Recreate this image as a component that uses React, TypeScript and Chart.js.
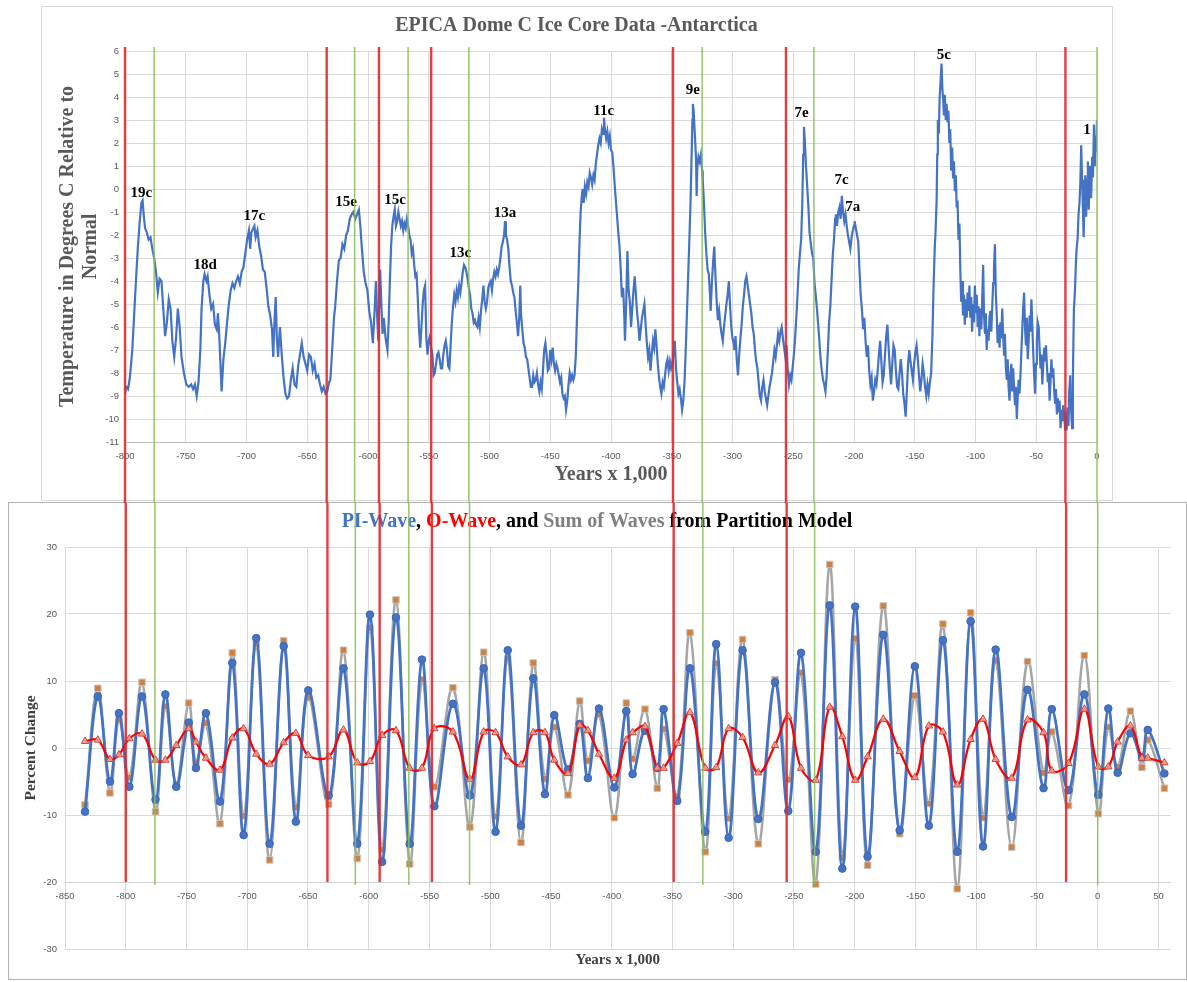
import React, { useEffect, useRef } from 'react';
import { Chart, registerables } from 'chart.js';

Chart.register(...registerables);

const SERIF = '"Liberation Serif", "Times New Roman", serif';
const SANS = '"Liberation Sans", Arial, sans-serif';

// ---------------- Top chart: EPICA Dome C temperature (years x 1,000 / deg C) ----------------
const epicaYears = [
  -800, -799, -797.5, -796, -794, -792.5, -791, -789.5, -788, -786.5,
  -785.5, -784.5, -783.5, -782, -780.5, -779, -777.5, -776, -774.5, -773,
  -771.5, -770, -768.5, -767, -765.5, -764, -762.5, -761, -759.5, -758,
  -756.5, -755, -753.5, -751.5, -749.5, -747.5, -745.5, -744, -742.5, -741,
  -739.5, -738, -737, -735.5, -734.5, -733, -732, -730.5, -729, -727.5,
  -726, -724.5, -723.5, -722.5, -721.5, -720.5, -719, -717.5, -716, -714.5,
  -713, -711.5, -710, -708.5, -707, -705.5, -704, -702.5, -701, -699.5,
  -698, -697, -696, -694.5, -693.5, -692.5, -691, -689.5, -688, -686.5,
  -685, -683.5, -682, -680.5, -679, -678, -677, -676, -675, -674,
  -672.5, -671, -669.5, -668, -666.5, -665, -663.5, -662, -660.5, -659,
  -657.5, -656, -654.5, -653, -651.5, -650, -648.5, -647, -645.5, -644,
  -642.5, -641, -639.5, -638, -636.5, -635, -633.5, -632, -631, -629.5,
  -628, -627, -625.5, -624, -622.5, -621, -619.5, -618, -616.5, -615,
  -613.5, -612, -610.5, -609, -607.5, -606.5, -605, -603.5, -602, -600.5,
  -599, -597.5, -596, -594.5, -593.5, -592.5, -591.5, -590, -589, -588,
  -587, -585.5, -584, -583, -582, -581, -580, -579, -578, -577,
  -576, -575, -574, -573, -572, -571, -570, -569, -568, -567,
  -566, -565, -564, -563, -562, -561, -560, -559, -558, -557,
  -556, -555, -554, -553, -552, -551, -550, -549, -548, -547,
  -546, -545, -544, -543, -542, -541, -540, -539, -538, -537,
  -536, -535, -534, -533, -532, -531, -530, -529, -528, -527,
  -526, -525, -524, -523, -522, -521, -520, -519, -518, -517,
  -516, -515, -514, -513, -512, -511, -510, -509, -508, -507,
  -506, -505, -504, -503, -502, -501, -500, -499, -498, -497,
  -496, -495, -494, -493, -492, -491, -490, -489, -488, -487.2,
  -486.5, -485.5, -484.5, -483.5, -482.5, -481.5, -480.5, -479.5, -478.5, -477.5,
  -476.5, -475.5, -474.7, -474, -473, -472, -471, -470, -469, -468,
  -467, -466, -465, -464, -463, -462, -461, -460, -459, -458,
  -457, -456, -455, -454, -453, -452, -451, -450, -449, -448,
  -447, -446, -445, -444, -443, -442, -441, -440, -439, -438,
  -437, -436, -435, -434, -433, -432, -431, -430, -429, -428,
  -427, -426, -425, -424, -423.3, -422.5, -421.5, -420.5, -419.5, -418.5,
  -417.5, -416.5, -415.5, -414.5, -413.5, -412.5, -411.5, -410.5, -409.5, -408.5,
  -407.5, -406.5, -405.8, -405, -404, -403, -402, -401, -400, -399,
  -398, -397, -396, -395, -394, -393, -392, -391, -390, -389,
  -388.5, -387.5, -386.5, -385.5, -384.5, -383.5, -382.5, -381.5, -380.5, -379.5,
  -378.5, -377.5, -376.5, -375.5, -374.5, -373.5, -372.5, -371.5, -370.5, -369.5,
  -368.5, -367.5, -366.5, -365.5, -364.5, -363.5, -362.5, -361.5, -360.5, -359.5,
  -358.5, -357.5, -356.5, -355.5, -354.5, -353.5, -352.5, -351.5, -350.5, -349.5,
  -348.5, -347.5, -346.5, -345.5, -344.5, -343.5, -342.5, -341.5, -340.5, -339.5,
  -338.5, -337.5, -336.5, -335.5, -334.5, -333.5, -333, -332.6, -332, -331,
  -330, -329.5, -329, -328, -327, -326, -325, -324.5, -323.5, -322.5,
  -321.5, -320.5, -319.5, -318.5, -318, -317, -316, -315, -314, -313,
  -312, -311, -310, -309, -308, -307, -306, -305, -304, -303,
  -302, -301, -300, -299, -298.5, -297.5, -296.5, -295.5, -294.5, -293.5,
  -292.5, -291.5, -290.5, -289.5, -288.5, -287.5, -286.5, -285.5, -284.5, -283.5,
  -282.5, -281.5, -280.5, -279.5, -278.5, -277.5, -276.5, -275.5, -274.5, -273.5,
  -272.5, -271.5, -270.5, -269.5, -268.5, -267.5, -266.5, -265.5, -264.5, -263.5,
  -262.5, -261.5, -260.5, -259.5, -258.5, -257.5, -256.5, -255.5, -254.5, -253.5,
  -252.5, -251.5, -250.5, -249.5, -248.5, -247.5, -246.5, -245.5, -244.5, -243.5,
  -242.5, -241.8, -241.2, -240.5, -239.5, -238.5, -237.5, -236.6, -235.5, -234.5,
  -233.5, -232.5, -231.5, -230.5, -229.5, -228.5, -227.5, -226.5, -225.5, -224.5,
  -223.5, -222.5, -221.5, -220.5, -219.5, -218.5, -217.5, -216.5, -215.5, -215,
  -214, -213, -212, -211, -210, -209, -208, -207, -206, -205,
  -204, -203, -202, -201, -200, -199.5, -198.5, -197.5, -196.5, -195.5,
  -194.5, -193.5, -192.5, -191.5, -190.5, -189.5, -188.5, -187.5, -186.5, -185.5,
  -184.5, -183.5, -182.5, -181.5, -180.5, -179.5, -178.5, -177.5, -176.5, -175.5,
  -174.5, -173.5, -172.5, -171.5, -170.5, -169.5, -168.5, -167.5, -166.5, -165.5,
  -164.5, -163.5, -162.5, -161.5, -160.5, -159.5, -158.5, -157.5, -156.5, -155.5,
  -154.5, -153.5, -152.5, -151.5, -150.5, -149.5, -148.5, -147.5, -146.5, -145.5,
  -144.5, -143.5, -142.5, -141.5, -140.5, -139.5, -138.5, -137.5, -136.5, -135.5,
  -134.5, -133.5, -133, -132, -131.5, -131, -130.2, -129.5, -128.8, -128,
  -127.3, -126.5, -126, -125.3, -124.5, -123.8, -123, -122.3, -121.5, -120.8,
  -120, -119.2, -118.5, -117.7, -117, -116.2, -115.5, -114.8, -114, -113.2,
  -112.5, -111.8, -111, -110.3, -109.5, -108.8, -108, -107.2, -106.5, -105.8,
  -105, -104.3, -103.5, -102.8, -102, -101.3, -100.5, -99.8, -99, -98.2,
  -97.5, -96.8, -96, -95.2, -94.5, -93.7, -93, -92.2, -91.5, -90.8,
  -90, -89.2, -88.5, -87.8, -87, -86.2, -85.5, -84.8, -84, -83.3,
  -82.5, -81.8, -81, -80.2, -79.5, -78.8, -78, -77.2, -76.5, -75.8,
  -75, -74.2, -73.5, -72.8, -72, -71.3, -70.5, -69.8, -69, -68.2,
  -67.5, -66.8, -66, -65.3, -64.5, -63.8, -63, -62.2, -61.5, -60.8,
  -60, -59.2, -58.5, -57.8, -57, -56.2, -55.5, -54.8, -54, -53.2,
  -52.5, -51.8, -51, -50.2, -49.5, -48.8, -48, -47.2, -46.5, -45.8,
  -45, -44.2, -43.5, -42.8, -42, -41.2, -40.5, -39.8, -39, -38.2,
  -37.5, -36.8, -36, -35.2, -34.5, -33.8, -33, -32.2, -31.5, -30.8,
  -30, -29.2, -28.5, -27.8, -27, -26.2, -25.5, -25, -24.2, -23.5,
  -22.8, -22, -21.3, -20.5, -19.8, -19, -18.2, -17.5, -16.8, -16,
  -15.2, -14.4, -13.7, -13, -12.3, -11.6, -11, -10.3, -9.6, -8.9,
  -8.2, -7.5, -6.8, -6.1, -5.5, -4.8, -4, -3.3, -2.5, -1.8,
  -1.2, -0.6, 0,
];

const epicaTemps = [
  -8.9, -8.6, -8.7, -8.2, -7.0, -5.5, -4.0, -2.6, -1.5, -0.6,
  -0.5, -1.2, -1.7, -1.9, -2.2, -2.1, -2.6, -3.0, -3.6, -4.5,
  -3.9, -4.0, -5.2, -6.4, -5.8, -4.8, -5.2, -6.6, -7.3, -6.5,
  -5.2, -6.0, -7.3, -8.0, -8.5, -8.6, -8.5, -8.7, -8.5, -9.0,
  -8.4, -7.0, -5.2, -4.0, -3.7, -4.0, -3.8, -4.6, -5.2, -5.0,
  -5.9, -6.1, -5.4, -6.3, -7.5, -8.8, -7.4, -6.7, -5.8, -5.0,
  -4.4, -4.1, -4.3, -4.0, -3.8, -4.1, -3.6, -3.4, -2.8, -2.2,
  -1.8, -2.6, -1.9, -1.7, -1.6, -2.1, -1.8, -2.5, -2.9, -3.5,
  -3.6, -4.3, -5.1, -5.5, -6.1, -7.3, -5.8, -4.7, -6.5, -7.3,
  -6.0, -7.2, -8.2, -8.9, -9.1, -9.0, -8.3, -7.8, -8.5, -8.6,
  -7.7, -7.2, -6.7, -7.3, -7.6, -7.9, -7.2, -7.3, -7.9, -7.6,
  -8.2, -8.1, -8.5, -8.8, -8.6, -8.9, -8.8, -8.4, -8.3, -7.0,
  -5.6, -5.1, -4.0, -3.1, -3.0, -2.4, -2.6, -2.0, -1.8, -1.3,
  -1.1, -1.0, -1.3, -1.1, -0.9, -1.5, -2.6, -3.6, -4.1, -4.4,
  -5.3, -5.8, -6.7, -5.2, -4.0, -5.5, -6.6, -3.5, -5.0, -6.3,
  -5.6, -6.5, -7.0, -5.8, -4.0, -2.5, -1.6, -1.2, -0.9, -1.6,
  -1.4, -1.0, -1.3, -1.6, -1.4, -1.8, -1.5, -1.7, -1.3, -1.6,
  -2.0, -2.2, -2.8, -2.6, -3.3, -3.8, -3.7, -4.8, -6.1, -6.9,
  -6.0, -5.0, -4.4, -4.2, -6.5, -7.2, -6.6, -6.4, -6.9, -7.2,
  -8.1, -8.0, -7.6, -7.2, -7.1, -7.4, -7.8, -7.8, -7.2, -6.8,
  -6.6, -7.0, -7.7, -7.8, -6.8, -5.8, -5.1, -4.6, -4.9, -4.4,
  -4.7, -4.2, -4.5, -4.1, -3.6, -3.3, -3.4, -3.6, -3.9, -4.3,
  -4.6, -5.2, -5.4, -5.8, -5.7, -5.9, -6.0, -5.6, -6.0, -5.3,
  -4.8, -4.2, -4.9, -5.2, -4.9, -4.3, -4.1, -4.0, -4.4, -3.9,
  -3.6, -3.8, -3.5, -3.7, -3.4, -3.0, -2.5, -2.3, -2.0, -1.4,
  -2.0, -2.2, -2.6, -3.4, -4.0, -4.2, -4.5, -4.7, -5.3, -5.8,
  -6.4, -5.6, -4.2, -5.5, -6.1, -6.7, -6.9, -7.3, -7.4, -7.8,
  -8.2, -8.6, -8.6, -8.1, -8.4, -8.3, -8.0, -8.5, -8.8, -8.4,
  -8.7, -7.9, -7.0, -6.7, -7.2, -7.9, -7.8, -7.0, -7.4, -6.9,
  -7.6, -7.9, -7.6, -7.8, -8.1, -8.4, -8.2, -8.9, -9.1, -9.0,
  -9.6, -9.2, -8.5, -8.0, -8.3, -8.1, -8.3, -8.1, -7.3, -5.6,
  -4.2, -2.4, -1.0, -0.3, 0.0, -0.6, 0.1, -0.2, 0.3, 0.1,
  0.7, 0.5, 0.2, 0.6, 0.4, 1.1, 1.5, 1.9, 2.2, 2.0,
  2.6, 2.4, 3.1, 2.6, 2.2, 2.5, 2.0, 2.3, 1.7, 1.6,
  1.0, 0.2, -0.5, -1.2, -1.9, -2.5, -3.5, -4.7, -4.3, -5.6,
  -6.6, -5.0, -2.7, -4.4, -4.9, -6.0, -5.2, -4.4, -3.8, -4.6,
  -5.4, -5.9, -6.6, -6.1, -5.6, -5.3, -5.0, -5.9, -6.7, -7.3,
  -7.0, -7.9, -7.2, -6.6, -6.9, -6.1, -6.8, -7.6, -8.2, -8.6,
  -8.9, -8.4, -8.6, -8.1, -7.6, -7.4, -7.9, -7.5, -7.8, -7.6,
  -7.1, -6.6, -7.8, -8.4, -8.9, -8.7, -9.1, -9.6, -9.2, -8.4,
  -7.0, -5.4, -3.8, -2.2, -0.5, 1.8, 3.0, 3.7, 3.4, 2.4,
  1.3, -0.3, 0.9, 1.4, 1.2, 1.5, 0.8, 0.4, -0.6, -1.9,
  -2.8, -3.5, -3.7, -4.6, -5.3, -4.1, -3.2, -2.5, -3.8, -4.9,
  -5.7, -5.3, -5.9, -6.3, -6.6, -6.0, -5.5, -5.0, -4.6, -4.0,
  -5.1, -6.0, -6.5, -6.7, -7.0, -6.4, -7.4, -8.1, -7.2, -6.5,
  -5.9, -5.1, -4.6, -4.0, -3.8, -4.2, -4.6, -5.0, -5.4, -6.0,
  -6.3, -7.0, -7.5, -7.8, -8.4, -9.0, -9.2, -8.6, -8.3, -8.8,
  -9.1, -9.4, -9.0, -8.6, -8.3, -8.0, -7.5, -7.0, -7.3, -6.8,
  -6.3, -6.6, -6.2, -6.0, -6.5, -6.9, -7.3, -6.8, -7.9, -8.5,
  -8.1, -8.3, -7.75, -7.2, -6.5, -5.6, -4.6, -3.5, -2.8, -2.2,
  -0.5, 1.5, 2.7, 2.1, 1.0, 0.1, -0.8, -1.9, -2.4, -2.8,
  -3.0, -4.1, -4.6, -5.2, -5.9, -6.6, -7.4, -7.9, -8.3, -8.5,
  -8.8, -8.1, -7.0, -5.8, -5.1, -4.0, -2.9, -2.2, -1.3, -1.1,
  -1.6, -1.0, -0.8, -1.3, -0.3, -1.0, -1.4, -1.1, -1.6, -2.0,
  -2.3, -2.6, -2.1, -1.8, -1.6, -1.4, -1.7, -2.0, -2.3, -3.5,
  -4.6, -5.2, -6.1, -5.6, -6.6, -7.3, -6.8, -7.9, -8.5, -8.2,
  -9.2, -8.8, -8.3, -8.5, -7.9, -7.2, -6.6, -7.5, -8.4, -8.1,
  -7.2, -6.4, -5.9, -6.9, -7.8, -8.5, -7.6, -6.8, -7.0, -7.9,
  -8.6, -8.7, -8.0, -7.4, -8.0, -8.9, -9.3, -9.9, -8.8, -7.6,
  -7.0, -7.5, -7.9, -8.3, -7.6, -7.1, -6.8, -7.4, -8.1, -8.8,
  -8.3, -7.6, -8.0, -8.6, -9.0, -8.5, -8.9, -8.4, -8.0, -6.5,
  -4.2, -2.5, -2.0, -0.5, 1.5, 3.0, 2.4, 4.0, 4.6, 5.45,
  4.4, 3.8, 3.2, 4.1, 3.0, 3.7, 2.9, 3.4, 2.0, 2.6,
  0.8, 1.8, 0.5, 1.2, -0.1, 0.6, -0.8, -0.5, -2.2, -1.5,
  -3.5, -4.9, -4.0, -5.5, -4.6, -5.9, -4.8, -5.6, -4.5, -5.3,
  -4.2, -5.6, -4.7, -6.2, -5.0, -5.8, -4.2, -5.4, -4.6, -6.0,
  -5.1, -6.4, -5.2, -6.1, -4.8, -3.3, -5.5, -6.3, -5.4, -7.0,
  -6.1, -6.6, -5.6, -5.3, -6.2, -5.1, -4.1, -3.4, -2.4, -4.5,
  -5.5, -6.7, -5.9, -6.9, -5.8, -6.5, -5.2, -6.4, -7.2, -6.3,
  -7.8, -8.3, -7.4, -8.6, -9.2, -8.1, -7.6, -8.8, -7.8, -8.7,
  -9.4, -8.6, -10.0, -9.1, -8.3, -8.9, -8.1, -7.0, -6.1, -5.2,
  -4.5, -6.1, -6.8, -5.6, -7.4, -6.6, -5.5, -6.2, -4.8, -6.0,
  -7.1, -8.0, -8.9, -7.6, -6.6, -5.8, -6.0, -7.0, -7.8, -7.2,
  -8.5, -7.6, -6.9, -7.5, -6.8, -7.7, -8.4, -8.0, -9.2, -8.3,
  -7.4, -8.2, -7.8, -8.8, -9.3, -8.7, -9.8, -9.1, -9.7, -9.2,
  -10.4, -9.6, -10.1, -9.4, -9.8, -10.5, -9.7, -10.5, -9.5, -10.3,
  -8.8, -8.1, -9.6, -10.4, -8.0, -5.2, -4.5, -3.4, -2.6, -2.2,
  -1.1, -0.6, 0.3, 1.9, 0.4, -0.8, -2.1, -0.5, 0.6, -1.2,
  0.4, 1.2, -0.9, 0.8, 1.0, -0.4, 1.4, 0.5, 2.8, 1.0,
  2.3, 1.6, 3.0,
];

const stageLabels = ['19c', '18d', '17c', '15e', '15c', '13c', '13a', '11c', '9e', '7e', '7c', '7a', '5c', '1'];
const stageLabelYears = [-786.5, -734, -693.6, -618, -577.8, -524, -487.3, -406, -332.6, -243.2, -210.2, -201, -126, -8.3];
const stageLabelTemps = [-0.17, -3.3, -1.2, -0.56, -0.5, -2.8, -1.04, 3.4, 4.3, 3.3, 0.38, -0.78, 5.8, 2.55];

// ---------------- Bottom chart: partition model waves ----------------
const waveYears = [
  -833.5, -823, -813, -805.6, -797, -786.6, -775.5, -767.4, -758.4, -748.2,
  -742.2, -734, -722.4, -712.3, -703, -692.6, -681.6, -670, -660, -649.8,
  -633, -620.8, -609.4, -599, -589, -577.6, -566.3, -556.2, -546, -530.7,
  -516.7, -505.4, -495.6, -485.6, -474.7, -464.6, -455, -447.3, -436, -426.4,
  -419.6, -410.5, -397.9, -388, -382.8, -372.6, -362.5, -357.3, -346.1, -335.6,
  -323, -314, -303.8, -292.3, -279.4, -265.6, -254.7, -244.2, -232.1, -220.6,
  -210.2, -199.6, -189.4, -176.5, -163, -150.5, -139, -127.4, -115.6, -104.6,
  -94.4, -84, -70.8, -57.8, -44.6, -37.8, -24, -11, 0.5, 8.7,
  16.4, 26.9, 36.4, 41.2, 54.9,
];

const piWave = [
  -9.5, 7.7, -5.0, 5.2, -5.8, 7.7, -7.7, 8.0, -5.8, 3.8,
  -3.0, 5.2, -8.0, 12.7, -13.0, 16.4, -14.3, 15.2, -11.0, 8.6,
  -7.1, 11.9, -14.3, 19.9, -17.0, 19.5, -14.3, 13.2, -8.7, 6.6,
  -7.1, 11.9, -12.5, 14.6, -11.6, 10.4, -6.9, 4.9, -3.2, 3.6,
  -4.5, 5.9, -5.9, 5.5, -3.9, 2.6, -3.0, 5.8, -7.9, 11.9,
  -12.5, 15.5, -13.4, 14.6, -10.6, 9.8, -9.4, 14.2, -15.5, 21.3,
  -18.0, 21.1, -16.2, 16.9, -12.3, 12.2, -11.6, 16.1, -15.5, 18.9,
  -14.7, 14.7, -10.3, 8.7, -6.0, 5.8, -6.3, 8.0, -7.0, 5.9,
  -3.7, 2.2, -1.4, 2.7, -3.8,
];

const oWave = [
  1.0, 1.2, -1.7, -1.0, 1.4, 2.1, -1.8, -1.8, 0.4, 2.9,
  0.9, -1.5, -3.3, 1.5, 2.9, -0.9, -2.4, 0.8, 2.2, -1.1,
  -1.3, 2.7, -2.2, -2.0, 1.9, 2.6, -3.0, -3.0, 2.9, 2.4,
  -4.7, 2.4, 2.3, -1.3, -2.5, 2.3, 2.3, -1.8, -3.8, 3.4,
  2.6, -0.9, -4.5, 1.2, 2.3, 3.2, -3.0, -3.0, 0.7, 5.3,
  -3.0, -2.9, 2.9, 1.6, -3.7, 0.4, 4.7, -3.0, -4.8, 6.1,
  1.7, -4.8, -1.3, 4.3, -0.5, -4.4, 3.3, 2.4, -5.5, 1.3,
  4.3, -1.7, -4.5, 4.2, 2.3, -3.4, -2.3, 5.8, -2.8, -2.8,
  0.9, 3.3, -1.5, -1.5, -2.2,
];

const sumWaves = [
  -8.5, 8.9, -6.7, 4.2, -4.4, 9.8, -9.5, 6.2, -5.4, 6.7,
  -2.1, 3.7, -11.3, 14.2, -10.1, 15.5, -16.7, 16.0, -8.8, 7.5,
  -8.4, 14.6, -16.5, 17.9, -15.1, 22.1, -17.3, 10.2, -5.8, 9.0,
  -11.8, 14.3, -10.2, 13.3, -14.1, 12.7, -4.6, 3.1, -7.0, 7.0,
  -1.9, 5.0, -10.4, 6.7, -1.6, 5.8, -6.0, 2.8, -7.2, 17.2,
  -15.5, 12.6, -10.5, 16.2, -14.3, 10.2, -4.7, 11.2, -20.3, 27.4,
  -16.3, 16.3, -17.5, 21.2, -12.8, 7.8, -8.3, 18.5, -21.0, 20.2,
  -10.4, 13.0, -14.8, 12.9, -3.7, 2.4, -8.6, 13.8, -9.8, 3.1,
  -2.8, 5.5, -2.9, 1.2, -6.0,
];

// Vertical marker lines (years x 1,000) spanning both charts
const redLineYears = [-800, -634, -591, -548, -349, -256, -26];
const greenLineYears = [-776, -611, -567, -517, -325, -233, 0];

const topTitle = 'EPICA Dome C Ice Core Data -Antarctica';
const bottomTitleParts = [
  { text: 'PI-Wave', color: '#4472c4' },
  { text: ', ', color: '#000000' },
  { text: 'O-Wave', color: '#ff0000' },
  { text: ', and ', color: '#000000' },
  { text: 'Sum of Waves', color: '#7f7f7f' },
  { text: ' from Partition Model', color: '#000000' },
];

function drawMarkerLines(ctx: CanvasRenderingContext2D, xScale: any, yFrom: number, yRed: number, yGreen: number) {
  ctx.save();
  ctx.globalAlpha = 0.9;
  ctx.strokeStyle = '#8cbf5b';
  ctx.lineWidth = 1.5;
  greenLineYears.forEach((v) => {
    const px = xScale.getPixelForValue(v);
    ctx.beginPath();
    ctx.moveTo(px, yFrom);
    ctx.lineTo(px, yGreen);
    ctx.stroke();
  });
  ctx.strokeStyle = '#e5262b';
  ctx.lineWidth = 2.4;
  redLineYears.forEach((v) => {
    const px = xScale.getPixelForValue(v);
    ctx.beginPath();
    ctx.moveTo(px, yFrom);
    ctx.lineTo(px, yRed);
    ctx.stroke();
  });
  ctx.restore();
}

const topOverlay = {
  id: 'topOverlay',
  afterDraw(chart: any) {
    const { ctx, chartArea } = chart;
    const xs = chart.scales.x;
    const ys = chart.scales.y;
    ctx.save();
    ctx.font = `bold 20px ${SERIF}`;
    ctx.fillStyle = '#595959';
    ctx.textAlign = 'center';
    ctx.textBaseline = 'middle';
    ctx.fillText(topTitle, chart.width / 2, 19);
    ctx.font = `bold 15px ${SERIF}`;
    ctx.fillStyle = '#000000';
    stageLabels.forEach((t, i) => {
      ctx.fillText(t, xs.getPixelForValue(stageLabelYears[i]), ys.getPixelForValue(stageLabelTemps[i]));
    });
    ctx.restore();
    drawMarkerLines(ctx, xs, chartArea.top - 4, chart.height, chart.height);
  },
};

const bottomOverlay = {
  id: 'bottomOverlay',
  afterDraw(chart: any) {
    const { ctx, chartArea } = chart;
    const xs = chart.scales.x;
    const ys = chart.scales.y;
    ctx.save();
    ctx.font = `bold 20px ${SERIF}`;
    ctx.textBaseline = 'middle';
    ctx.textAlign = 'left';
    const total = bottomTitleParts.reduce((s, p) => s + ctx.measureText(p.text).width, 0);
    let cx = chart.width / 2 - total / 2;
    bottomTitleParts.forEach((p) => {
      ctx.fillStyle = p.color;
      ctx.fillText(p.text, cx, 19);
      cx += ctx.measureText(p.text).width;
    });
    ctx.font = `bold 15px ${SERIF}`;
    ctx.fillStyle = '#404040';
    ctx.textAlign = 'center';
    ctx.fillText('Years x 1,000', (chartArea.left + chartArea.right) / 2, chartArea.bottom + 11);
    ctx.restore();
    const yM20 = ys.getPixelForValue(-20);
    drawMarkerLines(ctx, xs, 0, yM20, yM20 + 3);
  },
};

const tickFont = { family: SANS, size: 9.5 };

function TopChart() {
  const ref = useRef<HTMLCanvasElement>(null);
  useEffect(() => {
    const chart = new Chart(ref.current as HTMLCanvasElement, {
      type: 'line',
      data: {
        datasets: [
          {
            label: 'EPICA',
            data: epicaYears.map((x, i) => ({ x, y: epicaTemps[i] })),
            borderColor: '#4472c4',
            borderWidth: 2.2,
            pointRadius: 0,
            tension: 0,
            fill: false,
          },
        ],
      },
      options: {
        responsive: false,
        animation: false,
        devicePixelRatio: 1,
        layout: { padding: { left: 0, right: 14, top: 44, bottom: 11 } },
        plugins: { legend: { display: false }, tooltip: { enabled: false }, title: { display: false } },
        scales: {
          x: {
            type: 'linear',
            min: -800,
            max: 0,
            ticks: { stepSize: 50, color: '#595959', font: tickFont, padding: 9, maxRotation: 0, autoSkip: false },
            grid: { color: '#d9d9d9', drawTicks: false },
            border: { color: '#bfbfbf' },
            title: {
              display: true,
              text: 'Years x 1,000',
              color: '#595959',
              font: { family: SERIF, size: 20, weight: 'bold', lineHeight: 1.15 },
              padding: { top: 0, bottom: 5.5 },
            },
            afterFit: (s: any) => {
              s.height = 50;
            },
          },
          y: {
            type: 'linear',
            min: -11,
            max: 6,
            ticks: { stepSize: 1, color: '#595959', font: tickFont, padding: 6, autoSkip: false },
            grid: { color: '#d9d9d9', drawTicks: false },
            border: { display: false },
            title: {
              display: true,
              text: ['Temperature in Degrees C Relative to', 'Normal'],
              color: '#595959',
              font: { family: SERIF, size: 20, weight: 'bold', lineHeight: 1.15 },
              padding: { top: 14.5, bottom: 0 },
            },
            afterFit: (s: any) => {
              s.width = 83;
            },
          },
        },
      } as any,
      plugins: [topOverlay],
    });
    return () => chart.destroy();
  }, []);
  return (
    <canvas
      ref={ref}
      width={1069}
      height={496}
      style={{ position: 'absolute', left: 42, top: 7, width: 1069, height: 496 }}
    />
  );
}

function BottomChart() {
  const ref = useRef<HTMLCanvasElement>(null);
  useEffect(() => {
    const chart = new Chart(ref.current as HTMLCanvasElement, {
      type: 'line',
      data: {
        datasets: [
          {
            label: 'PI-Wave',
            data: waveYears.map((x, i) => ({ x, y: piWave[i] })),
            borderColor: '#4472c4',
            backgroundColor: '#4472c4',
            borderWidth: 2.75,
            tension: 0.4,
            pointStyle: 'circle',
            pointRadius: 3.8,
            pointBackgroundColor: '#4472c4',
            pointBorderColor: '#3b65b3',
            pointBorderWidth: 1,
            fill: false,
            order: 2,
          },
          {
            label: 'O-Wave',
            data: waveYears.map((x, i) => ({ x, y: oWave[i] })),
            borderColor: '#ff0000',
            backgroundColor: '#ff0000',
            borderWidth: 2.25,
            tension: 0.4,
            pointStyle: 'triangle',
            pointRadius: 4.3,
            pointBackgroundColor: 'rgba(236,160,140,0.9)',
            pointBorderColor: '#d0453e',
            pointBorderWidth: 1,
            fill: false,
            order: 1,
          },
          {
            label: 'Sum of Waves',
            data: waveYears.map((x, i) => ({ x, y: sumWaves[i] })),
            borderColor: '#a5a5a5',
            backgroundColor: '#a5a5a5',
            borderWidth: 2.5,
            tension: 0.4,
            pointStyle: 'rect',
            pointRadius: 4.6,
            pointBackgroundColor: '#d2803f',
            pointBorderColor: '#c4c4c4',
            pointBorderWidth: 1,
            fill: false,
            order: 3,
          },
        ],
      },
      options: {
        responsive: false,
        animation: false,
        devicePixelRatio: 1,
        layout: { padding: { left: 0, right: 14.4, top: 44, bottom: 30 } },
        plugins: { legend: { display: false }, tooltip: { enabled: false }, title: { display: false } },
        scales: {
          x: {
            type: 'linear',
            min: -850,
            max: 60,
            position: { y: -20 },
            ticks: {
              stepSize: 50,
              includeBounds: false,
              color: '#595959',
              font: tickFont,
              padding: 9,
              maxRotation: 0,
              autoSkip: false,
            },
            grid: { color: '#d9d9d9', drawTicks: false },
            border: { color: '#cfcfcf' },
          },
          y: {
            type: 'linear',
            min: -30,
            max: 30,
            ticks: { stepSize: 10, color: '#595959', font: tickFont, padding: 8 },
            grid: { color: '#d9d9d9', drawTicks: false },
            border: { display: false },
            title: {
              display: true,
              text: 'Percent Change',
              color: '#404040',
              font: { family: SERIF, size: 15.5, weight: 'bold', lineHeight: 1.2 },
              padding: { top: 12.7, bottom: 0 },
            },
            afterFit: (s: any) => {
              s.width = 56;
            },
          },
        },
      } as any,
      plugins: [bottomOverlay],
    });
    return () => chart.destroy();
  }, []);
  return (
    <canvas
      ref={ref}
      width={1176}
      height={476}
      style={{ position: 'absolute', left: 9, top: 503, width: 1176, height: 476 }}
    />
  );
}

export default function App() {
  return (
    <div
      style={{
        position: 'absolute',
        left: 0,
        top: 0,
        width: 1187,
        height: 982,
        background: '#ffffff',
        overflow: 'hidden',
      }}
    >
      <div
        style={{
          position: 'absolute',
          left: 41,
          top: 6,
          width: 1072,
          height: 495,
          border: '1px solid #d9d9d9',
          boxSizing: 'border-box',
        }}
      />
      <div
        style={{
          position: 'absolute',
          left: 8,
          top: 502,
          width: 1179,
          height: 478,
          border: '1px solid #b0b0b0',
          boxSizing: 'border-box',
        }}
      />
      <TopChart />
      <BottomChart />
    </div>
  );
}
